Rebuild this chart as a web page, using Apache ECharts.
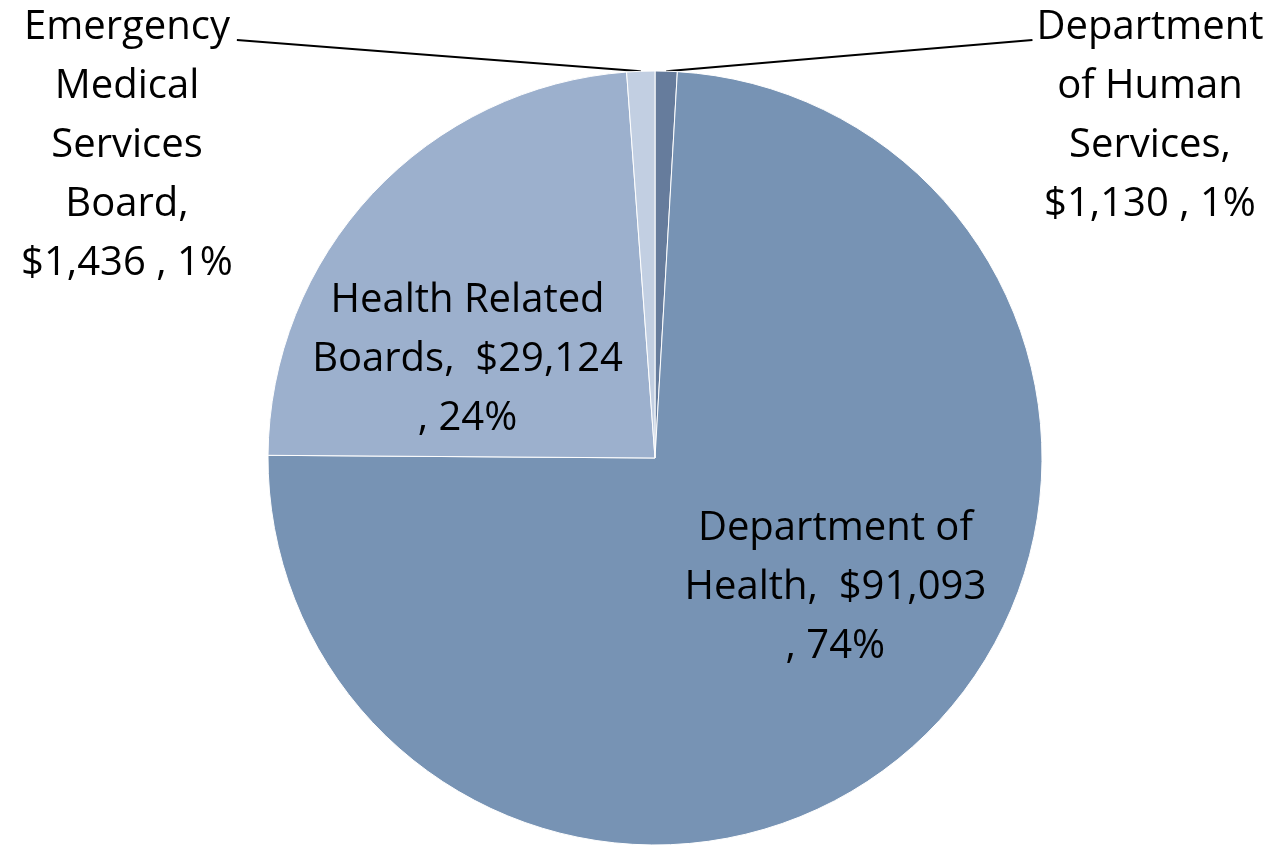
<!DOCTYPE html>
<html>
<head>
<meta charset="utf-8">
<script src="https://cdn.jsdelivr.net/npm/echarts@6/dist/echarts.min.js"></script>
<style>
  html, body { margin: 0; padding: 0; background: #fff; }
  #chart { width: 1278px; height: 845px; }
</style>
</head>
<body>
<div id="chart"></div>
<script>
// categories and values (thousands of dollars), clockwise from 12 o'clock
var names = [
  "Department of Human Services",
  "Department of Health",
  "Health Related Boards",
  "Emergency Medical Services Board"
];
var amounts = [1130, 91093, 29124, 1436];
var colors = ["#667c9c", "#7793b4", "#9cb0cd", "#c2cfe2"];

var chart = echarts.init(document.getElementById("chart"));

function money(v) {
  return "$" + v.toLocaleString("en-US");
}

// label text, wrapped like the original
function labelText(p) {
  var v = money(p.value);
  var pct = p.percent + "%";
  switch (p.dataIndex) {
    case 0: return "Department\nof Human\nServices,\n" + v + " , " + pct;
    case 1: return "Department of\nHealth,  " + v + "\n, " + pct;
    case 2: return "Health Related\nBoards,  " + v + "\n, " + pct;
    default: return "Emergency\nMedical\nServices\nBoard,\n" + v + " , " + pct;
  }
}

var font = {
  fontFamily: "Open Sans",
  fontSize: 40,
  lineHeight: 59,
  color: "#000"
};

var data = names.map(function (n, i) {
  var inside = i === 1 || i === 2;
  return {
    name: n,
    value: amounts[i],
    itemStyle: { color: colors[i] },
    label: inside
      ? { position: "inside", offset: i === 1 ? [46, -14] : [-44, 36] }
      : { position: "outside" },
    labelLine: { show: !inside }
  };
});

chart.setOption({
  backgroundColor: "#fff",
  animation: false,
  series: [
    {
      type: "pie",
      center: [655, 458],
      radius: 387,
      startAngle: 90,
      clockwise: true,
      percentPrecision: 0,
      avoidLabelOverlap: false,
      itemStyle: { borderColor: "#fff", borderWidth: 1 },
      label: Object.assign({ formatter: labelText, align: "center" }, font),
      labelLine: {
        lineStyle: { color: "#000", width: 2 },
        smooth: false
      },
      labelLayout: function (p) {
        if (p.dataIndex !== 0 && p.dataIndex !== 3) return {};
        var w = p.labelRect.width;
        var left = p.dataIndex === 3;
        var cx = left ? 127 : 1150;
        var start = p.labelLinePoints ? p.labelLinePoints[0] : [655, 71];
        // leave a small gap between the leader line and the text
        var endX = left ? cx + w / 2 + 4 : cx - w / 2 - 4;
        var endY = 40;
        return {
          x: cx,
          y: -2,
          align: "center",
          verticalAlign: "top",
          labelLinePoints: [start, [(start[0] + endX) / 2, (start[1] + endY) / 2], [endX, endY]]
        };
      },
      data: data
    }
  ]
});
</script>
</body>
</html>
